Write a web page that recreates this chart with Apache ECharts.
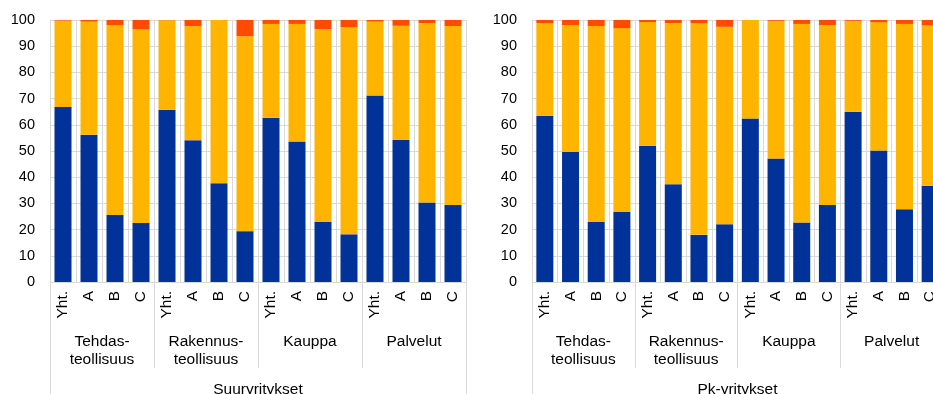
<!DOCTYPE html>
<html>
<head>
<meta charset="utf-8">
<script src="https://cdn.jsdelivr.net/npm/echarts@6/dist/echarts.min.js"></script>
<style>
  html, body { margin: 0; padding: 0; background: #fff; }
  #chart { width: 933px; height: 394px; }
</style>
</head>
<body>
<div id="chart"></div>
<script>
// Sub-categories within each sector
const categories = ['Yht.', 'A', 'B', 'C', 'Yht.', 'A', 'B', 'C', 'Yht.', 'A', 'B', 'C', 'Yht.', 'A', 'B', 'C'];
// Sectors (each spans four sub-categories)
const sectors = ['Tehdas-\nteollisuus', 'Rakennus-\nteollisuus', 'Kauppa', 'Palvelut'];
// Firm size panels
const panels = ['Suuryritykset', 'Pk-yritykset'];
// Value axis ticks
const yTicks = { min: 0, max: 100, step: 10 };

// Large firms: stacked shares (%)
const largeBlue   = [66.8, 56.2, 25.6, 22.5, 65.7, 54.1, 37.7, 19.4, 62.7, 53.6, 22.9, 18.2, 71.2, 54.3, 30.3, 29.4];
const largeYellow = [33.0, 43.2, 72.5, 73.9, 34.2, 43.6, 62.3, 74.4, 35.8, 44.9, 73.6, 79.1, 28.2, 43.5, 68.5, 68.3];
const largeRed    = [0.2, 0.6, 1.9, 3.6, 0.1, 2.3, 0.0, 6.2, 1.5, 1.5, 3.5, 2.7, 0.6, 2.2, 1.2, 2.3];

// SMEs: stacked shares (%)
const smeBlue   = [63.5, 49.6, 22.9, 26.7, 52.0, 37.3, 18.0, 22.0, 62.4, 47.1, 22.7, 29.4, 65.0, 50.2, 27.8, 36.7];
const smeYellow = [35.2, 48.5, 74.8, 70.2, 47.2, 61.5, 80.7, 75.4, 37.6, 52.6, 75.8, 68.7, 34.7, 49.0, 70.7, 61.2];
const smeRed    = [1.3, 1.9, 2.3, 3.1, 0.8, 1.2, 1.3, 2.6, 0.0, 0.3, 1.5, 1.9, 0.3, 0.8, 1.5, 2.1];

const BLUE = '#003299', YELLOW = '#FFB400', RED = '#FF4B00';
const GRID_LINE = '#d9d9d9';
const FONT = '"Liberation Sans", Arial, sans-serif';

// the right panel runs past the page edge, so bounds fitting is turned off
const grids = [
  { left: 50, top: 20, width: 416, height: 262, outerBoundsMode: 'none', containLabel: false },
  { left: 532, top: 20, width: 411, height: 262, outerBoundsMode: 'none', containLabel: false }
];

const xAxes = [];
const yAxes = [];
const series = [];

function addPanel(gi, name, blue, yellow, red) {
  const base = xAxes.length;
  // sub-category axis
  xAxes.push({
    type: 'category', gridIndex: gi, data: categories, position: 'bottom',
    axisLine: { show: true, lineStyle: { color: GRID_LINE, width: 1 } },
    axisTick: { show: false },
    axisLabel: { interval: 0, rotate: 90, margin: 9, color: '#000', fontSize: 15.5, fontFamily: FONT },
    splitLine: { show: true, lineStyle: { color: GRID_LINE, width: 1 } }
  });
  // sector axis
  xAxes.push({
    type: 'category', gridIndex: gi, data: sectors, position: 'bottom',
    axisLine: { show: false },
    axisTick: { show: true, length: 86, lineStyle: { color: GRID_LINE, width: 1 } },
    axisLabel: { interval: 0, margin: 51, color: '#000', fontSize: 15.5, lineHeight: 18,
                 verticalAlign: 'top', fontFamily: FONT },
    splitLine: { show: false }
  });
  // panel axis
  xAxes.push({
    type: 'category', gridIndex: gi, data: [name], position: 'bottom',
    axisLine: { show: false },
    axisTick: { show: true, length: 115, lineStyle: { color: GRID_LINE, width: 1 } },
    axisLabel: { interval: 0, margin: 99, color: '#000', fontSize: 15.5, lineHeight: 18,
                 verticalAlign: 'top', fontFamily: FONT },
    splitLine: { show: false }
  });
  yAxes.push({
    type: 'value', gridIndex: gi, min: yTicks.min, max: yTicks.max, interval: yTicks.step,
    axisLine: { show: true, lineStyle: { color: GRID_LINE, width: 1 } },
    axisTick: { show: false },
    axisLabel: { margin: 15, color: '#000', fontSize: 14.5, fontFamily: FONT },
    splitLine: { show: true, lineStyle: { color: GRID_LINE, width: 1 } }
  });
  const stack = 'p' + gi;
  [[blue, BLUE], [yellow, YELLOW], [red, RED]].forEach(([d, c]) => {
    series.push({
      type: 'bar', xAxisIndex: base, yAxisIndex: gi, stack: stack,
      data: d, barWidth: 17, itemStyle: { color: c }, silent: true
    });
  });
}

addPanel(0, panels[0], largeBlue, largeYellow, largeRed);
addPanel(1, panels[1], smeBlue, smeYellow, smeRed);

const chart = echarts.init(document.getElementById('chart'), null, { renderer: 'canvas' });
chart.setOption({
  animation: false,
  backgroundColor: '#fff',
  grid: grids,
  xAxis: xAxes,
  yAxis: yAxes,
  series: series
});
</script>
</body>
</html>
